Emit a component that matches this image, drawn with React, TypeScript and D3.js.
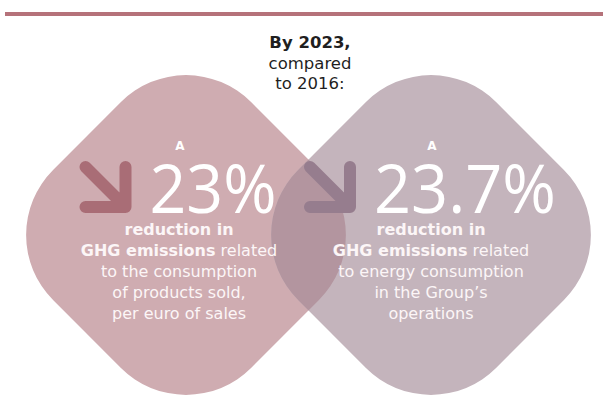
import React from "react";
import * as d3 from "d3";

// two key figures, side by side
const columns = ["products", "operations"];
const reductions = [23, 23.7];
const leadWords = ["A", "A"];
const titleLines = ["By 2023,", "compared", "to 2016:"];

// each line: [bold part, regular part]
const leftLines = [
  ["reduction in", ""],
  ["GHG emissions", " related"],
  ["", "to the consumption"],
  ["", "of products sold,"],
  ["", "per euro of sales"],
];
const rightLines = [
  ["reduction in", ""],
  ["GHG emissions", " related"],
  ["", "to energy consumption"],
  ["", "in the Group\u2019s"],
  ["", "operations"],
];
const descriptions = [leftLines, rightLines];

const W = 603, H = 406;
const FONT = "'DejaVu Sans', sans-serif";
const NUM_FONT = "'Open Sans', sans-serif";
const shapeFill = ["#cfacb1", "#c4b4bc"];
const overlapFill = "#b3959f";
const arrowFill = ["#a96d76", "#967d8e"];

export default function App() {
  const x = d3.scalePoint<string>().domain(columns).range([186, 431]);
  const cy = 235;
  const half = 140, corner = 92;
  const textShift = [-7, 0];
  const fmt = (v: number) => d3.format("~f")(v) + "%";
  const numWidth = [127, 182];

  const diamond = (c: string, fill: string) => (
    <rect
      x={-half} y={-half} width={half * 2} height={half * 2} rx={corner} ry={corner}
      transform={`translate(${x(c)},${cy}) rotate(45)`} fill={fill}
    />
  );

  return (
    <svg width={W} height={H} style={{ position: "absolute", left: 0, top: 0 }} fontFamily={FONT}>
      <defs>
        <clipPath id="leftClip">{diamond(columns[0], "#000")}</clipPath>
      </defs>
      <rect x={5} y={12} width={W - 5} height={4} fill="#b5727a" />

      {columns.map((c, i) => <g key={c}>{diamond(c, shapeFill[i])}</g>)}
      <g clipPath="url(#leftClip)">{diamond(columns[1], overlapFill)}</g>

      <g textAnchor="middle" fill="#1f1f1f" fontSize={16.5}>
        {titleLines.map((t, i) => (
          <text key={t} x={310} y={48 + i * 20.5} fontWeight={i === 0 ? 700 : 400}>{t}</text>
        ))}
      </g>

      {columns.map((c, i) => {
        const tc = (x(c) as number) + textShift[i];
        const arrowW = 56, gap = 18;
        const start = tc - (arrowW + gap + numWidth[i]) / 2 - 3;
        const ax = start + arrowW - 6, ay = 207, s = 40;
        return (
          <g key={c}>
            <path
              d={`M${ax - s},${ay - s}L${ax},${ay}M${ax},${ay - s}L${ax},${ay}L${ax - s},${ay}`}
              fill="none" stroke={arrowFill[i]} strokeWidth={12}
              strokeLinecap="round" strokeLinejoin="round"
            />
            <text x={tc + 1} y={150} textAnchor="middle" fill="#fff" fontWeight={700} fontSize={12}>
              {leadWords[i]}
            </text>
            <text x={start + arrowW + gap} y={213} fill="#fff" fontSize={68} fontWeight={400}
              fontFamily={NUM_FONT} textLength={numWidth[i]} lengthAdjust="spacingAndGlyphs">
              {fmt(reductions[i])}
            </text>
            {descriptions[i].map((ln, j) => (
              <text key={j} x={tc} y={235 + j * 21} textAnchor="middle" fill="#fcf6f7" fontSize={16}>
                {ln[0] && <tspan fontWeight={700}>{ln[0]}</tspan>}
                {ln[1] && <tspan fontWeight={400}>{ln[1]}</tspan>}
              </text>
            ))}
          </g>
        );
      })}
    </svg>
  );
}
